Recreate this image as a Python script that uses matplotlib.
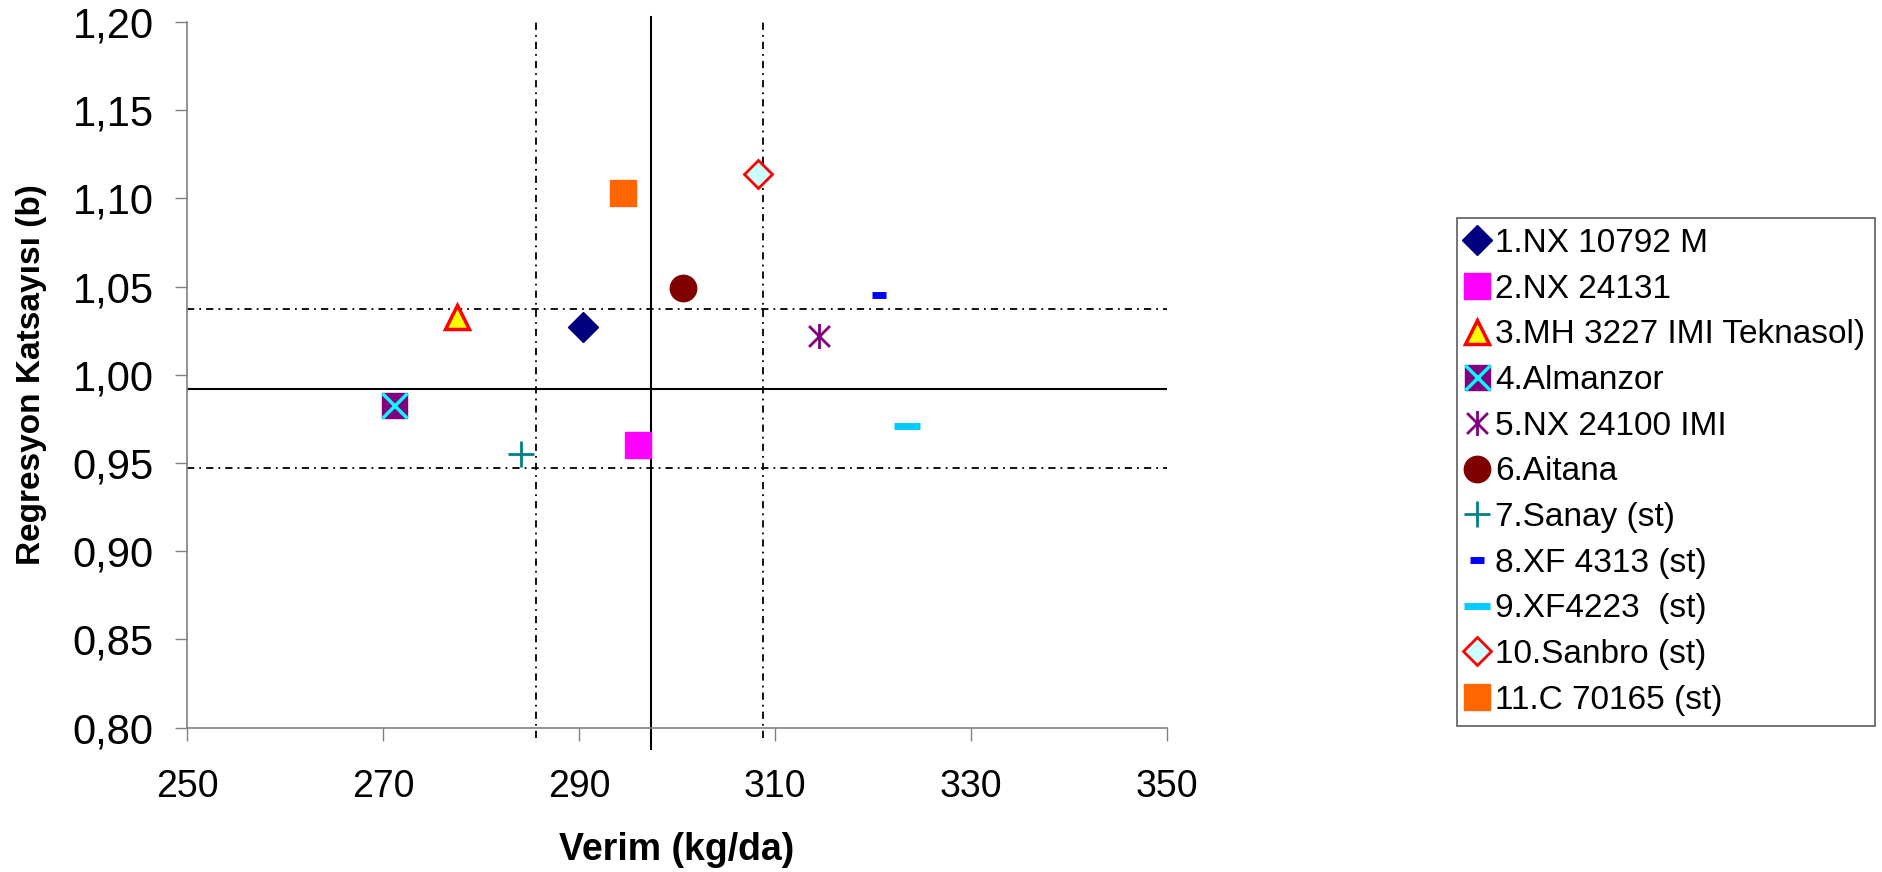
import numpy as np
import matplotlib
matplotlib.use("Agg")
import matplotlib.pyplot as plt
from matplotlib.path import Path
from matplotlib.legend_handler import HandlerTuple

plt.rcParams['font.family'] = ['Liberation Sans', 'DejaVu Sans']

# genotype labels and their (yield, regression coefficient) values
labels = ['1.NX 10792 M', '2.NX 24131', '3.MH 3227 IMI Teknasol)', '4.Almanzor',
          '5.NX 24100 IMI', '6.Aitana', '7.Sanay (st)', '8.XF 4313 (st)',
          '9.XF4223  (st)', '10.Sanbro (st)', '11.C 70165 (st)']
verim = [290.4, 296.0, 277.6, 271.1, 314.5, 300.6, 284.1, 320.6, 323.5, 308.3, 294.5]
katsayi = [1.027, 0.960, 1.033, 0.983, 1.022, 1.049, 0.955, 1.045, 0.971, 1.114, 1.103]

# reference lines: mean yield / mean b (solid) and limits (dash-dot)
mean_verim = 297.3
mean_b = 0.992
verim_limits = [285.6, 308.8]
b_limits = [1.037, 0.947]

# excel style asterisk: x with a vertical bar
asterisk = Path([(-1, -1), (1, 1), (-1, 1), (1, -1), (0, -1.2), (0, 1.2)],
                [Path.MOVETO, Path.LINETO, Path.MOVETO, Path.LINETO, Path.MOVETO, Path.LINETO])

fig = plt.figure(figsize=(18.83, 8.72), dpi=100)
ax = fig.add_axes([0.0993, 0.1655, 0.5205, 0.8095])

dashdot = (0, (4, 2.8, 1, 2.8))
ax.plot([mean_verim, mean_verim], [0.788, 1.203], color='black', lw=1.5, clip_on=False, zorder=1)
ax.plot([250, 350], [mean_b, mean_b], color='black', lw=1.5, zorder=1)
for v in verim_limits:
    ax.plot([v, v], [0.794, 1.20], color='black', lw=1.3, ls=dashdot, clip_on=False, zorder=1)
for b in b_limits:
    ax.plot([250, 350], [b, b], color='black', lw=1.3, ls=dashdot, zorder=1)

styles = [
    dict(marker='D', ms=15, mfc='#000080', mec='#000080'),
    dict(marker='s', ms=19, mfc='#FF00FF', mec='#FF00FF'),
    dict(marker='^', ms=17, mfc='#FFFF00', mec='#FF0000', mew=2.5),
    None,
    dict(marker=asterisk, ms=18, mfc='none', mec='#800080', mew=2),
    dict(marker='o', ms=19, mfc='#800000', mec='#800000'),
    dict(marker='+', ms=18.5, mec='#008080', mew=2),
    dict(marker='_', ms=10, mec='#0000FF', mew=5),
    dict(marker='_', ms=19, mec='#00CCFF', mew=5),
    dict(marker='D', ms=14, mfc='#CCFFFF', mec='#FF0000', mew=2),
    dict(marker='s', ms=19, mfc='#FF6600', mec='#FF6600'),
]

handles = []
for i in range(len(labels)):
    if styles[i] is None:
        h1, = ax.plot(verim[i], katsayi[i], ls='none', marker='s', ms=18,
                      mfc='#800080', mec='#800080', zorder=3)
        h2, = ax.plot(verim[i], katsayi[i], ls='none', marker='x', ms=18,
                      mec='#00FFFF', mew=2.5, zorder=4)
        handles.append((h1, h2))
    else:
        h, = ax.plot(verim[i], katsayi[i], ls='none', zorder=3, **styles[i])
        handles.append(h)

ax.set_xlim(250, 350)
ax.set_ylim(0.80, 1.20)
ax.set_xticks([250, 270, 290, 310, 330, 350])
yt = np.arange(0.80, 1.2001, 0.05)
ax.set_yticks(yt)
ax.set_yticklabels([f'{v:.2f}'.replace('.', ',') for v in yt])
ax.tick_params(axis='both', length=9, width=1, color='#808080')
ax.tick_params(axis='x', labelsize=27, pad=21)
ax.tick_params(axis='y', labelsize=30, pad=15)
for s in ['top', 'right']:
    ax.spines[s].set_visible(False)
for s in ['left', 'bottom']:
    ax.spines[s].set_color('#808080')
    ax.spines[s].set_linewidth(1.2)

ax.set_xlabel('Verim (kg/da)', fontsize=27, fontweight='bold', labelpad=19)
ax.set_ylabel('Regresyon Katsayısı (b)', fontsize=24, fontweight='bold', labelpad=18)

leg = fig.legend(handles, labels, loc='upper left', bbox_to_anchor=(0.7738, 0.75),
                 fontsize=24, frameon=True, fancybox=False, edgecolor='#333333',
                 handlelength=0.6, handletextpad=0.24, labelspacing=0.44, borderpad=0.3,
                 borderaxespad=0, numpoints=1,
                 handler_map={tuple: HandlerTuple(ndivide=1, pad=0)})
leg.get_frame().set_linewidth(1.2)

fig.savefig('out.png', dpi=100)
